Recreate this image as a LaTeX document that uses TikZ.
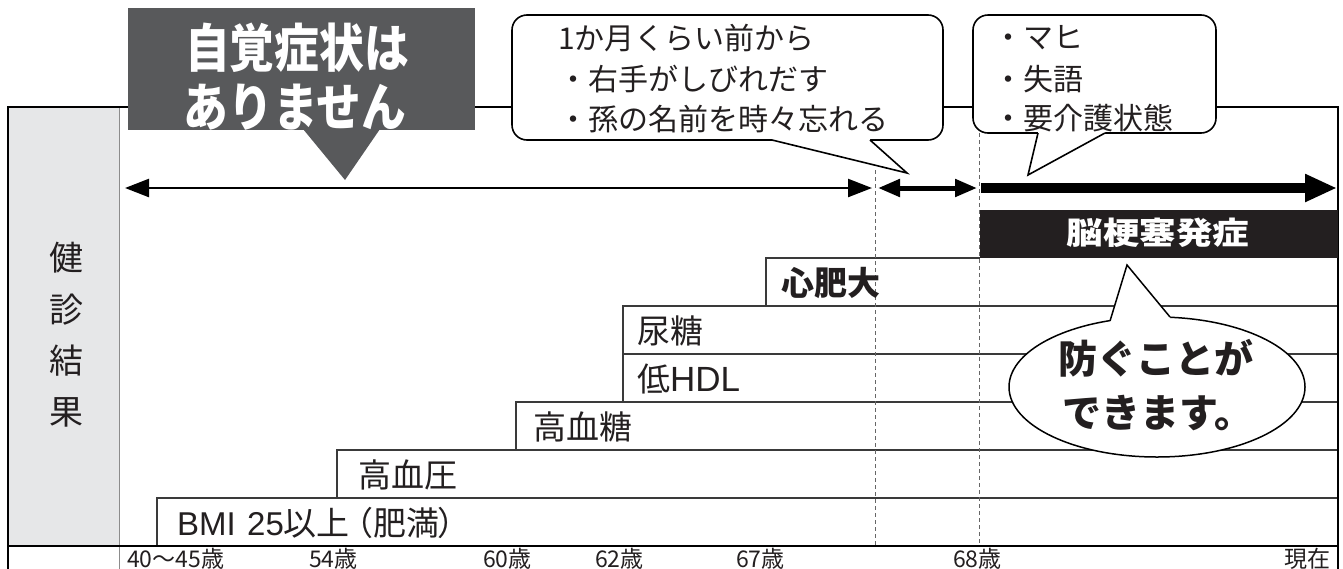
\documentclass[tikz,border=0pt]{standalone}
\usepackage{fontspec}
\usepackage{graphicx}
\setmainfont{Noto Sans CJK JP}
\newfontfamily\latfont{Liberation Sans}
\usetikzlibrary{arrows.meta}
\definecolor{darkbox}{HTML}{58595B}
\definecolor{blackbox}{HTML}{231F20}
\definecolor{graycol}{HTML}{E6E7E8}
\definecolor{barline}{HTML}{3A3A3A}
\definecolor{txt}{HTML}{231F20}
\begin{document}
\begin{tikzpicture}[x=1pt,y=-1pt,
  every node/.style={inner sep=0pt,outer sep=0pt,text=txt},
  lbl/.style={anchor=base west,font=\fontsize{33}{33}\selectfont},
  collbl/.style={anchor=base,font=\fontsize{34}{34}\selectfont},
  agelbl/.style={anchor=base west,font=\fontsize{23}{23}\selectfont},
  calltxt/.style={anchor=base west,font=\fontsize{30}{30}\selectfont},
  barln/.style={draw=barline,line width=1.2},
  frameln/.style={draw=black,line width=2},
  dashln/.style={draw=black!60,line width=0.9,dash pattern=on 4pt off 3pt},
  callout/.style={draw=black,line width=1.6,fill=white},
  thinarr/.style={line width=2.4,{Triangle[length=24pt,width=18pt]}-{Triangle[length=24pt,width=18pt]}},
  midarr/.style={line width=5,{Triangle[length=22pt,width=17pt]}-{Triangle[length=22pt,width=17pt]}},
  thickarr/.style={line width=10,-{Triangle[length=32pt,width=26pt]}}]
\fill[white] (0,0) rectangle (1343,568);
\useasboundingbox (0,0) rectangle (1343,568);
% gray label column
\fill[graycol] (8,107) rectangle (119,546);
\draw[black!45,line width=1] (119,107) -- (119,575);
% bars
\draw[barln] (157,546) -- (157,498) -- (1338,498);
\draw[barln] (337,498) -- (337,450) -- (1338,450);
\draw[barln] (516,450) -- (516,402) -- (1338,402);
\draw[barln] (623,402) -- (623,354) -- (1338,354);
\draw[barln] (623,354) -- (623,306) -- (1338,306);
\draw[barln] (766,306) -- (766,258) -- (980,258);
% dashed lines
\draw[dashln] (875,170) -- (875,546);
\draw[dashln] (979,133) -- (979,546);
% axis and frame
\draw[black,line width=1.6] (8,546) -- (1338,546);
\draw[frameln] (8,575) -- (8,107) -- (1338,107) -- (1338,575);
% black box
\fill[blackbox] (980,210) rectangle (1338,258);
\node[anchor=base,text=white,font=\fontsize{31}{31}\selectfont\bfseries] (noko) at (1158,244) {\scalebox{1.18}[1]{脳梗塞発症}};
% dark callout
\fill[darkbox] (128,8) rectangle (475,130);
\fill[darkbox] (303,129) -- (380,129) -- (345,180) -- cycle;
\node[anchor=base,text=white,font=\fontsize{52}{52}\selectfont\bfseries] (jikaku1) at (297,67) {\scalebox{0.86}[1]{自覚症状は}};
\node[anchor=base,text=white,font=\fontsize{52}{52}\selectfont\bfseries] (jikaku2) at (295,126) {\scalebox{0.86}[1]{ありません}};
% callout 1
\draw[callout,rounded corners=15] (512,15) rectangle (943,140);
\fill[white] (772,140) -- (907,173) -- (870,140) -- (870,135) -- (772,135) -- cycle;
\draw[black,line width=1.6,line join=miter] (772,140) -- (907,173) -- (870,140);
\node[calltxt] (c1a) at (558,49) {1か月くらい前から};
\node[calltxt] (c1b) at (558,90) {・右手がしびれだす};
\node[calltxt] (c1c) at (558,130) {・孫の名前を時々忘れる};
% callout 2
\draw[callout,rounded corners=15] (973,15) rectangle (1216,133);
\fill[white] (1038,133) -- (1028,175) -- (1105,133) -- (1105,128) -- (1038,128) -- cycle;
\draw[black,line width=1.6,line join=miter] (1038,133) -- (1028,175) -- (1105,133);
\node[calltxt] (c2a) at (993,48) {・マヒ};
\node[calltxt] (c2b) at (993,90) {・失語};
\node[calltxt] (c2c) at (993,129) {・要介護状態};
% arrows
\coordinate (t1) at (125,188);
\coordinate (t2) at (872,188);
\coordinate (m1) at (878,188);
\coordinate (m2) at (977,188);
\coordinate (k1) at (981,188);
\coordinate (k2) at (1337,188);
\draw[thinarr] (t1) -- (t2);
\draw[midarr] (m1) -- (m2);
\draw[thickarr] (k1) -- (k2);
% bar labels
\node[lbl] (bmi) at (177,535) {{\latfont BMI\hspace{0.35em}25}以上\kern-0.3em（肥満\kern-0.05em）};
\node[lbl] (ketsuatsu) at (358,487) {高血圧};
\node[lbl] (ketto) at (533,439) {高血糖};
\node[lbl] (hdl) at (637,391) {低{\latfont\fontsize{35}{35}\selectfont HDL}};
\node[lbl] (nyoto) at (637,343) {尿糖};
\node[lbl,font=\fontsize{33}{33}\selectfont\bfseries] (shinhidai) at (781,295) {心肥大};
% ellipse bubble
\draw[black,line width=1.5,fill=white] (1157,387) ellipse [x radius=148,y radius=70];
\fill[white] (1110,321) -- (1127,265) -- (1170,317) -- (1170,330) -- (1110,330) -- cycle;
\draw[black,line width=1.5,line join=miter] (1110,321) -- (1127,265) -- (1170,317);
\node[anchor=base,font=\fontsize{39}{39}\selectfont\bfseries] (fusegu1) at (1156,373) {防ぐことが};
\node[anchor=base,font=\fontsize{39}{39}\selectfont\bfseries] (fusegu2) at (1158,427) {できます。};
% column label
\node[collbl] (ken) at (66,270) {健};
\node[collbl] (shin) at (66,322) {診};
\node[collbl] (ketsu) at (66,373) {結};
\node[collbl] (ka) at (66,424) {果};
% ages
\node[agelbl] (a40) at (127,567) {40〜45歳};
\node[agelbl] (a54) at (309,567) {54歳};
\node[agelbl] (a60) at (483,567) {60歳};
\node[agelbl] (a62) at (595,567) {62歳};
\node[agelbl] (a67) at (736,567) {67歳};
\node[agelbl] (a68) at (953,567) {68歳};
\node[agelbl] (now) at (1284,567) {現在};
\end{tikzpicture}
\end{document}
